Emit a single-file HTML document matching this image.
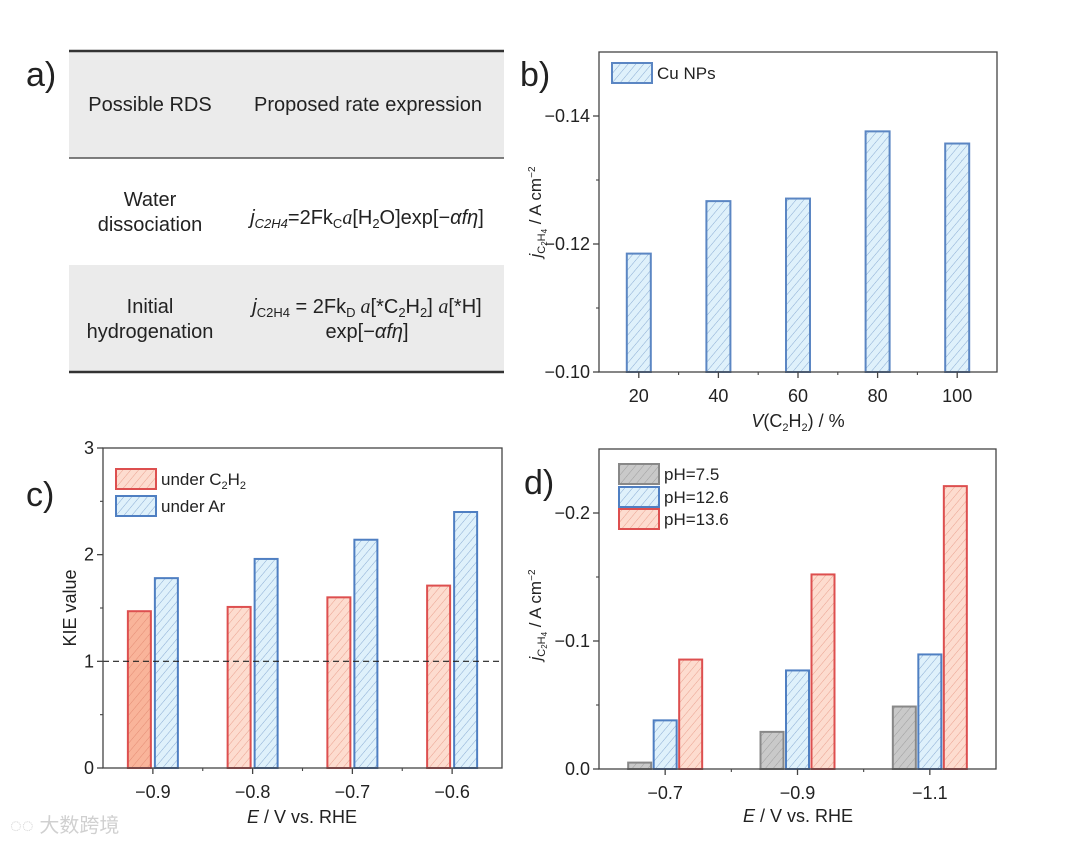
<!DOCTYPE html>
<html><head><meta charset="utf-8">
<style>
body{margin:0;background:#fff;}
svg text{font-family:"Liberation Sans",sans-serif;fill:#222;}
</style></head>
<body>
<svg id="fig" width="1080" height="844" viewBox="0 0 1080 844" xmlns="http://www.w3.org/2000/svg">
<defs>
<pattern id="hb" patternUnits="userSpaceOnUse" width="6" height="6" patternTransform="rotate(40)"><rect width="6" height="6" fill="#dff1fb"/><line x1="0" y1="0" x2="0" y2="6" stroke="#7fa3cf" stroke-width="0.9"/></pattern>
<pattern id="hr" patternUnits="userSpaceOnUse" width="6" height="6" patternTransform="rotate(40)"><rect width="6" height="6" fill="#fddccf"/><line x1="0" y1="0" x2="0" y2="6" stroke="#e89a88" stroke-width="0.9"/></pattern>
<pattern id="hr2" patternUnits="userSpaceOnUse" width="6" height="6" patternTransform="rotate(40)"><rect width="6" height="6" fill="#f9b49a"/><line x1="0" y1="0" x2="0" y2="6" stroke="#e28870" stroke-width="0.9"/></pattern>
<pattern id="hg" patternUnits="userSpaceOnUse" width="6" height="6" patternTransform="rotate(40)"><rect width="6" height="6" fill="#c9c9c9"/><line x1="0" y1="0" x2="0" y2="6" stroke="#999" stroke-width="0.9"/></pattern>
</defs>

<g>
<rect x="69" y="51" width="435" height="107" fill="#ebebeb"/>
<rect x="69" y="265" width="435" height="107" fill="#ebebeb"/>
<line x1="69" y1="51" x2="504" y2="51" stroke="#333" stroke-width="2.5"/>
<line x1="69" y1="158" x2="504" y2="158" stroke="#555" stroke-width="1.5"/>
<line x1="69" y1="372" x2="504" y2="372" stroke="#333" stroke-width="2.5"/>
<text x="26" y="86" font-size="34">a)</text>
<text x="150" y="111" font-size="20" text-anchor="middle">Possible RDS</text>
<text x="368" y="111" font-size="20" text-anchor="middle">Proposed rate expression</text>
<text x="150" y="206" font-size="20" text-anchor="middle"><tspan x="150">Water</tspan><tspan x="150" dy="25">dissociation</tspan></text>
<text x="367" y="224" font-size="20" text-anchor="middle"><tspan font-style="italic">j<tspan font-size="13" dy="4">C2H4</tspan></tspan><tspan dy="-4">=2Fk</tspan><tspan font-size="13" dy="4">C</tspan><tspan dy="-4" font-family="Liberation Serif" font-style="italic">a</tspan><tspan>[H</tspan><tspan font-size="13" dy="4">2</tspan><tspan dy="-4">O]exp[−</tspan><tspan font-style="italic">αfη</tspan><tspan>]</tspan></text>
<text x="150" y="313" font-size="20" text-anchor="middle"><tspan x="150">Initial</tspan><tspan x="150" dy="25">hydrogenation</tspan></text>
<text x="367" y="313" font-size="20" text-anchor="middle"><tspan font-style="italic">j</tspan><tspan font-size="13" dy="4">C2H4</tspan><tspan dy="-4"> = 2Fk</tspan><tspan font-size="13" dy="4">D</tspan><tspan dy="-4" font-family="Liberation Serif" font-style="italic"> a</tspan><tspan>[*C</tspan><tspan font-size="13" dy="4">2</tspan><tspan dy="-4">H</tspan><tspan font-size="13" dy="4">2</tspan><tspan dy="-4">] </tspan><tspan font-family="Liberation Serif" font-style="italic">a</tspan><tspan>[*H]</tspan></text>
<text x="367" y="338" font-size="20" text-anchor="middle">exp[−<tspan font-style="italic">αfη</tspan>]</text>
</g>

<text x="520" y="86" font-size="34">b)</text>
<text x="26" y="506" font-size="34">c)</text>
<text x="524" y="494" font-size="34">d)</text>
<text x="10" y="832" font-size="20" style="fill:#d0d0d0" font-family="Noto Sans CJK SC">◌◌ 大数跨境</text>

<g id="pb"></g>
<g id="pc"></g>
<g id="pd"></g>
</svg>
<script>
const bCategories = ['20','40','60','80','100'];
const bValues = [-0.1185, -0.1267, -0.1271, -0.1376, -0.1357];
const bTicks = [-0.10, -0.12, -0.14];
const bTickLabels = ['−0.10','−0.12','−0.14'];
const cCategories = ['−0.9','−0.8','−0.7','−0.6'];
const cUnderC2H2 = [1.47, 1.51, 1.60, 1.71];
const cUnderAr = [1.78, 1.96, 2.14, 2.40];
const cTicks = [0, 1, 2, 3];
const cTickLabels = ['0','1','2','3'];
const dCategories = ['−0.7','−0.9','−1.1'];
const dPH75 = [-0.005, -0.029, -0.0488];
const dPH126 = [-0.038, -0.077, -0.0895];
const dPH136 = [-0.0855, -0.152, -0.221];
const dTicks = [0, -0.1, -0.2];
const dTickLabels = ['0.0','−0.1','−0.2'];

const NS='http://www.w3.org/2000/svg';
function mk(parent, tag, attrs){const e=document.createElementNS(NS,tag);for(const k in attrs)e.setAttribute(k,attrs[k]);parent.appendChild(e);return e;}
const JT='<tspan font-style="italic">j</tspan><tspan font-size="11" dy="4">C</tspan><tspan font-size="8" dy="2">2</tspan><tspan font-size="11" dy="-2">H</tspan><tspan font-size="8" dy="2">4</tspan><tspan dy="-6"> / A cm</tspan><tspan font-size="10" dy="-6">−2</tspan>';

function axes(g, L,T,R,B, yScale, ticks, labels, minorTicks, nCat, xScale){
  const box=mk(g,'rect',{x:L,y:T,width:R-L,height:B-T,fill:'none',stroke:'#444','stroke-width':1.3});
  
  
  ticks.forEach((v,i)=>{
    const y=yScale(v);
    mk(g,'line',{x1:L-6,y1:y,x2:L,y2:y,stroke:'#444','stroke-width':1.3});
    const t=mk(g,'text',{x:L-9,y:y+6,'font-size':18,'text-anchor':'end'});
    t.textContent=labels[i];
    
    
  });
  minorTicks.forEach(v=>{const y=yScale(v);mk(g,'line',{x1:L-3,y1:y,x2:L,y2:y,stroke:'#444','stroke-width':1.1});});
  for(let i=0;i<nCat;i++){
    const x=xScale(i);
    mk(g,'line',{x1:x,y1:B,x2:x,y2:B+6,stroke:'#444','stroke-width':1.3});
    if(i<nCat-1){const xm=(xScale(i)+xScale(i+1))/2;mk(g,'line',{x1:xm,y1:B,x2:xm,y2:B+3,stroke:'#444','stroke-width':1.1});}
  }
}
function xlabels(g,cats,xScale,B){
  cats.forEach((c,i)=>{const t=mk(g,'text',{x:xScale(i),y:B+30,'font-size':18,'text-anchor':'middle'});t.textContent=c;
    
    });
}
function bar(g,cx,w,y0,y1,fill,stroke,name){
  const r=mk(g,'rect',{x:cx-w/2,y:Math.min(y0,y1),width:w,height:Math.abs(y1-y0),fill:fill,stroke:stroke,'stroke-width':2});
  
  
}
function legend(g,x,y,fill,stroke,html){
  mk(g,'rect',{x:x,y:y,width:40,height:20,fill:fill,stroke:stroke,'stroke-width':2});
  const t=mk(g,'text',{x:x+45,y:y+16,'font-size':17});
  t.innerHTML=html;
  
  
}

(function(){
  const g=document.getElementById('pb');
  const L=599,T=52,R=997,B=372, ymin=-0.10,ymax=-0.15;
  const y=v=>B-(v-ymin)/(ymax-ymin)*(B-T);
  const x=i=>L+(i+0.5)*(R-L)/bCategories.length;
  bValues.forEach((v,i)=>bar(g,x(i),24,y(ymin),y(v),'url(#hb)','#5b86c3','bar-'+bCategories[i]));
  axes(g,L,T,R,B,y,bTicks,bTickLabels,[-0.11,-0.13],bCategories.length,x);
  xlabels(g,bCategories,x,B);
  legend(g,612,63,'url(#hb)','#5b86c3','Cu NPs');
  const xt=mk(g,'text',{x:798,y:427,'font-size':18,'text-anchor':'middle'});
  xt.innerHTML='<tspan font-style="italic">V</tspan>(C<tspan font-size="11" dy="4">2</tspan><tspan dy="-4">H</tspan><tspan font-size="11" dy="4">2</tspan><tspan dy="-4">) / %</tspan>';
  
  
  const yt=mk(g,'text',{transform:'translate(541,212) rotate(-90)','font-size':17,'text-anchor':'middle'});
  yt.innerHTML=JT;
  
  
})();

(function(){
  const g=document.getElementById('pc');
  const L=103,T=448,R=502,B=768, ymin=0,ymax=3;
  const y=v=>B-(v-ymin)/(ymax-ymin)*(B-T);
  const x=i=>L+(i+0.5)*(R-L)/cCategories.length;
  cUnderC2H2.forEach((v,i)=>bar(g,x(i)-13.5,23,y(0),y(v),i===0?'url(#hr2)':'url(#hr)','#dd4f4f','bar-c2h2-'+i));
  cUnderAr.forEach((v,i)=>bar(g,x(i)+13.5,23,y(0),y(v),'url(#hb)','#4f7fc2','bar-ar-'+i));
  const dl=mk(g,'line',{x1:L,y1:y(1),x2:R,y2:y(1),stroke:'#222','stroke-width':1.1,'stroke-dasharray':'6,4'});
  
  
  axes(g,L,T,R,B,y,cTicks,cTickLabels,[0.5,1.5,2.5],cCategories.length,x);
  xlabels(g,cCategories,x,B);
  legend(g,116,469,'url(#hr)','#dd4f4f','under C<tspan font-size="11" dy="4">2</tspan><tspan dy="-4">H</tspan><tspan font-size="11" dy="4">2</tspan>');
  legend(g,116,496,'url(#hb)','#4f7fc2','under Ar');
  const xt=mk(g,'text',{x:302,y:823,'font-size':18,'text-anchor':'middle'});
  xt.innerHTML='<tspan font-style="italic">E</tspan> / V vs. RHE';
  
  
  const yt=mk(g,'text',{transform:'translate(76,608) rotate(-90)','font-size':18,'text-anchor':'middle'});
  yt.textContent='KIE value';
  
  
})();

(function(){
  const g=document.getElementById('pd');
  const L=599,T=449,R=996,B=769, ymin=0,ymax=-0.25;
  const y=v=>B-(v-ymin)/(ymax-ymin)*(B-T);
  const x=i=>L+(i+0.5)*(R-L)/dCategories.length;
  dPH75.forEach((v,i)=>bar(g,x(i)-25.5,23,y(0),y(v),'url(#hg)','#888','bar-ph75-'+i));
  dPH126.forEach((v,i)=>bar(g,x(i),23,y(0),y(v),'url(#hb)','#4f7fc2','bar-ph126-'+i));
  dPH136.forEach((v,i)=>bar(g,x(i)+25.5,23,y(0),y(v),'url(#hr)','#dd4f4f','bar-ph136-'+i));
  axes(g,L,T,R,B,y,dTicks,dTickLabels,[-0.05,-0.15],dCategories.length,x);
  xlabels(g,dCategories,x,B);
  legend(g,619,464,'url(#hg)','#888','pH=7.5');
  legend(g,619,487,'url(#hb)','#4f7fc2','pH=12.6');
  legend(g,619,509,'url(#hr)','#dd4f4f','pH=13.6');
  const xt=mk(g,'text',{x:798,y:822,'font-size':18,'text-anchor':'middle'});
  xt.innerHTML='<tspan font-style="italic">E</tspan> / V vs. RHE';
  
  
  const yt=mk(g,'text',{transform:'translate(541,615) rotate(-90)','font-size':17,'text-anchor':'middle'});
  yt.innerHTML=JT;
  
  
})();
</script>
</body></html>
